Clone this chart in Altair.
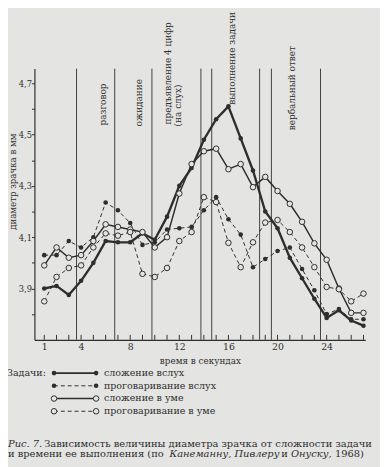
import altair as alt
import pandas as pd

# ---------------- data ----------------
seconds = list(range(1, 28))
add_aloud = [3.90, 3.91, 3.875, 3.93, 4.00, 4.085, 4.08, 4.08, 4.115, 4.09,
             4.18, 4.30, 4.37, 4.48, 4.56, 4.61, 4.485, 4.36, 4.20, 4.135,
             4.02, 3.94, 3.86, 3.785, 3.815, 3.775, 3.755]
repeat_aloud = [4.03, 4.03, 4.085, 4.06, 4.10, 4.235, 4.205, 4.155, 4.07, 4.08,
                4.13, 4.135, 4.14, 4.205, 4.256, 4.17, 4.11, 3.983, 4.015, 4.046,
                4.06, 3.976, 3.893, 3.80, 3.82, 3.78, 3.78]
add_silent = [3.99, 4.06, 4.02, 4.03, 4.085, 4.15, 4.14, 4.13, 4.12, 4.06,
              4.10, 4.27, 4.385, 4.435, 4.445, 4.365, 4.385, 4.295, 4.335, 4.28,
              4.23, 4.16, 4.076, 4.012, 3.90, 3.805, 3.805]
repeat_silent = [3.85, 3.945, 3.98, 3.99, 4.06, 4.115, 4.106, 4.12, 3.957, 3.945,
                 3.98, 4.085, 4.12, 4.256, 4.237, 4.078, 3.983, 4.08, 4.157, 4.167,
                 4.12, 4.06, 3.983, 3.906, 3.897, 3.85, 3.88]

series_names = ["сложение вслух", "проговаривание вслух", "сложение в уме", "проговаривание в уме"]
series_values = [add_aloud, repeat_aloud, add_silent, repeat_silent]

phase_bounds = [3.63, 6.74, 9.77, 13.76, 14.64, 18.54, 19.5, 23.5]
phase_labels = ["разговор", "ожидание", "предъявление 4 цифр", "(на слух)",
                "выполнение задачи", "вербальный ответ"]
phase_label_t = [5.8, 8.75, 11.1, 11.93, 16.3, 21.2]

x_label_values = [1, 4, 8, 12, 16, 20, 24]
y_tick_values = [3.8, 3.9, 4.0, 4.1, 4.2, 4.3, 4.4, 4.5, 4.6, 4.7]

legend_title = "Задачи:"
caption_parts = [
    ("Рис. 7.", "italic", 0),
    ("Зависимость величины диаметра зрачка от сложности задачи", "normal", 0),
    ("и времени ее выполнения (по", "normal", 1),
    ("Канеманну, Пивлеру", "italic", 1),
    ("и", "normal", 1),
    ("Онуску,", "italic", 1),
    ("1968)", "normal", 1),
]

# ---------------- layout / style (not data) ----------------
W, H = 338, 277
INK = "#2e2e2e"
BG = "#e4e4e2"
FONT = "DejaVu Serif"

styles = [
    dict(width=2.4, dash=None, filled=True),
    dict(width=1.0, dash=[4, 3], filled=True),
    dict(width=1.5, dash=None, filled=False),
    dict(width=1.0, dash=[4, 3], filled=False),
]

rows = []
for name, vals in zip(series_names, series_values):
    for t, v in zip(seconds, vals):
        rows.append({"t": t, "value": v, "series": name})
df = pd.DataFrame(rows)

x_scale = alt.Scale(domain=[0.2, 27.15], nice=False, zero=False)
y_scale = alt.Scale(domain=[3.70, 4.757], nice=False, zero=False)

x_axis = alt.Axis(values=x_label_values, ticks=False, labelPadding=2, labelFontSize=9.5,
                  labelFont=FONT, labelColor=INK, domainColor=INK, domainWidth=1.2,
                  grid=False, title="время в секундах", titleFont=FONT, titleFontSize=9,
                  titleFontWeight="normal", titleColor=INK, titleY=21, titleBaseline="middle")
y_axis = alt.Axis(values=y_tick_values,
                  labelExpr="(round(datum.value*10) % 2 == 1) ? replace(format(datum.value, '.1f'), '.', ',') : ''",
                  tickSize=3, tickColor=INK, labelPadding=0, labelFontSize=8.5, labelFont=FONT,
                  labelColor=INK, domainColor=INK, domainWidth=1.2, grid=False,
                  title="диаметр зрачка в мм", titleFont=FONT, titleFontSize=8.8,
                  titleFontWeight="normal", titleColor=INK, titleAngle=270, titleX=-22.5, titleY=115,
                  titleAlign="center", titleBaseline="middle")

X_ENC = alt.X("t:Q", scale=x_scale, axis=x_axis)
Y_ENC = alt.Y("value:Q", scale=y_scale, axis=y_axis)

layers = []

# series lines
for name, st in zip(series_names, styles):
    kw = dict(color=INK, strokeWidth=st["width"])
    if st["dash"]:
        kw["strokeDash"] = st["dash"]
    layers.append(alt.Chart(df).transform_filter(alt.datum.series == name)
                  .mark_line(**kw).encode(x=X_ENC, y=Y_ENC))

# series points
for name, st in zip(series_names, styles):
    if st["filled"]:
        mk = alt.Chart(df).mark_circle(color=INK, size=22, opacity=1)
    else:
        mk = alt.Chart(df).mark_circle(fill=BG, stroke=INK, strokeWidth=1, size=32, opacity=1)
    layers.append(mk.transform_filter(alt.datum.series == name).encode(x=X_ENC, y=Y_ENC))

# phase boundaries
phase_df = pd.DataFrame({"t": phase_bounds})
layers.append(alt.Chart(phase_df).mark_rule(color=INK, strokeWidth=0.9).encode(
    x=X_ENC, y=alt.value(0), y2=alt.value(H)))

# inward x ticks
tick_df = pd.DataFrame({"t": seconds})
layers.append(alt.Chart(tick_df).mark_rule(color=INK, strokeWidth=1).encode(
    x=X_ENC, y=alt.value(H - 5), y2=alt.value(H)))

# phase labels (rotated)
lab_bottom = [58, 59, 57, 59, 37, 63]
lab_df = pd.DataFrame({"t": phase_label_t, "label": phase_labels, "ly": lab_bottom})
layers.append(alt.Chart(lab_df).mark_text(angle=270, align="left", baseline="middle",
                                          font=FONT, fontSize=9.1, color=INK).encode(
    x=X_ENC, y=alt.Y("ly:Q", scale=None), text="label:N"))

# legend
leg_df = pd.DataFrame({"series": series_names, "row": [0, 1, 2, 3]}).assign(
    ly=lambda d: 311 + 13 * d["row"])
layers.append(alt.Chart(pd.DataFrame({"label": [legend_title]})).mark_text(
    align="left", baseline="middle", font=FONT, fontSize=9.7, color=INK).encode(
    x=alt.value(-28), y=alt.value(311), text="label:N"))
for name, st in zip(series_names, styles):
    kw = dict(color=INK, strokeWidth=min(st["width"], 1.8))
    if st["dash"]:
        kw["strokeDash"] = st["dash"]
    sub = alt.Chart(leg_df).transform_filter(alt.datum.series == name)
    layers.append(sub.mark_rule(**kw).encode(
        x=alt.value(20), x2=alt.value(63), y=alt.Y("ly:Q", scale=None)))
    for px in (20, 63):
        if st["filled"]:
            mk = sub.mark_circle(color=INK, size=22, opacity=1)
        else:
            mk = sub.mark_circle(fill=BG, stroke=INK, strokeWidth=1, size=32, opacity=1)
        layers.append(mk.encode(x=alt.value(px), y=alt.Y("ly:Q", scale=None)))
layers.append(alt.Chart(leg_df).mark_text(align="left", baseline="middle", font=FONT,
                                          fontSize=9.7, color=INK).encode(
    x=alt.value(71), y=alt.Y("ly:Q", scale=None), text="series:N"))

# caption
cap_x = [-27, 10, -27, 138, 252, 262, 307]
cap_y = [383, 394]
for (txt, style, line), cx in zip(caption_parts, cap_x):
    layers.append(alt.Chart(pd.DataFrame({"label": [txt]})).mark_text(
        align="left", baseline="middle", font=FONT, fontSize=10.1, fontStyle=style,
        color=INK).encode(x=alt.value(cx), y=alt.value(cap_y[line]), text="label:N"))

chart = alt.layer(*layers).properties(
    width=W, height=H, background=BG,
    padding={"left": 27, "top": 57, "right": 15, "bottom": 125},
    autosize=alt.AutoSizeParams(type="none"),
).configure_view(stroke=None)

chart.save("out.html", embed_options={"renderer": "svg", "actions": False})
